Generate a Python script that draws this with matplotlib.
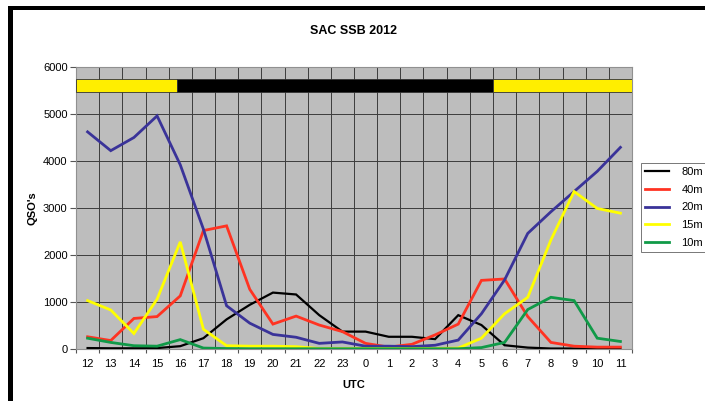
import matplotlib
matplotlib.use("Agg")
import matplotlib.pyplot as plt
from matplotlib.patches import Rectangle
import numpy as np

plt.rcParams['font.family'] = ['Liberation Sans', 'DejaVu Sans']

# UTC hours, contest runs 12 -> 11
hours = [12, 13, 14, 15, 16, 17, 18, 19, 20, 21, 22, 23,
         0, 1, 2, 3, 4, 5, 6, 7, 8, 9, 10, 11]

qso_80m = [20, 15, 15, 20, 60, 230, 630, 940, 1200, 1160, 720, 370,
           370, 260, 260, 210, 720, 510, 80, 30, 10, 10, 10, 10]
qso_40m = [260, 180, 650, 690, 1130, 2520, 2620, 1270, 530, 700, 510, 370,
           120, 40, 100, 300, 530, 1460, 1490, 690, 140, 60, 40, 40]
qso_20m = [4620, 4220, 4500, 4960, 3920, 2550, 920, 550, 310, 250, 120, 150,
           60, 60, 50, 80, 190, 750, 1470, 2460, 2920, 3350, 3780, 4290]
qso_15m = [1030, 830, 330, 1060, 2280, 420, 70, 60, 60, 50, 10, 10,
           10, 10, 10, 10, 20, 230, 750, 1100, 2320, 3350, 2990, 2890]
qso_10m = [230, 140, 70, 60, 200, 20, 10, 5, 5, 5, 5, 5,
           5, 5, 5, 5, 5, 30, 140, 840, 1100, 1030, 230, 160]

bands = ['80m', '40m', '20m', '15m', '10m']
series = [qso_80m, qso_40m, qso_20m, qso_15m, qso_10m]
colors = ['#000000', '#ff3322', '#3a3399', '#ffff00', '#109a48']
widths = [1.6, 2.0, 2.0, 2.0, 2.0]

# daylight / darkness band (category index edges: sunset ~15:50, sunrise ~05:30)
band_edges = [-0.5, 3.85, 17.5, 23.5]
band_colors = ['#ffee00', '#000000', '#ffee00']

fig = plt.figure(figsize=(7.05, 4.01), dpi=100)
ax = fig.add_axes([76 / 705, 1 - 349 / 401, 556 / 705, 282 / 401])
ax.set_facecolor('#bdbdbd')

x = np.arange(len(hours))
for vals, c, lw, lab in zip(series, colors, widths, bands):
    ax.plot(x, vals, color=c, lw=lw, label=lab, zorder=3, solid_joinstyle='miter')

for i, c in enumerate(band_colors):
    ax.barh(5600, band_edges[i + 1] - band_edges[i], left=band_edges[i],
            height=270, color=c, edgecolor='#333333', linewidth=0.6, zorder=4)

ax.set_xlim(-0.5, len(hours) - 0.5)
ax.set_ylim(0, 6000)
ax.set_yticks(range(0, 6001, 1000))
ax.set_xticks(np.arange(-0.5, len(hours), 1.0))
ax.set_xticklabels([])
ax.set_xticks(x, minor=True)
ax.set_xticklabels([str(h) for h in hours], minor=True)
ax.tick_params(axis='x', which='minor', length=0, pad=7, labelsize=8)
ax.tick_params(axis='x', which='major', length=3, color='#555555')
ax.tick_params(axis='y', length=4, labelsize=8, pad=2, color='#555555')
ax.grid(True, which='major', color='#3c3c3c', lw=0.7)
ax.set_axisbelow(True)
for s in ax.spines.values():
    s.set_color('#909090')
    s.set_linewidth(0.8)

ax.set_title('SAC SSB 2012', fontsize=9, fontweight='bold', pad=24)
ax.set_xlabel('UTC', fontsize=8, fontweight='bold', labelpad=8)
ax.set_ylabel("QSO's", fontsize=8, fontweight='bold', labelpad=4)

leg = ax.legend(loc='upper left', bbox_to_anchor=(641 / 705, 1 - 163 / 401),
                bbox_transform=fig.transFigure, fontsize=8, frameon=True,
                fancybox=False, edgecolor='#555555', borderaxespad=0,
                handlelength=2.2, labelspacing=0.7,
                borderpad=0.35, handletextpad=1.1)
leg.get_frame().set_linewidth(0.7)

# black page frame (top and left)
fig.add_artist(Rectangle((8 / 705, 1 - 10 / 401), 1, 4 / 401, transform=fig.transFigure,
                         color='black', lw=0))
fig.add_artist(Rectangle((8 / 705, 0), 5 / 705, 1 - 6 / 401, transform=fig.transFigure,
                         color='black', lw=0))

fig.savefig('out.png', dpi=100)
